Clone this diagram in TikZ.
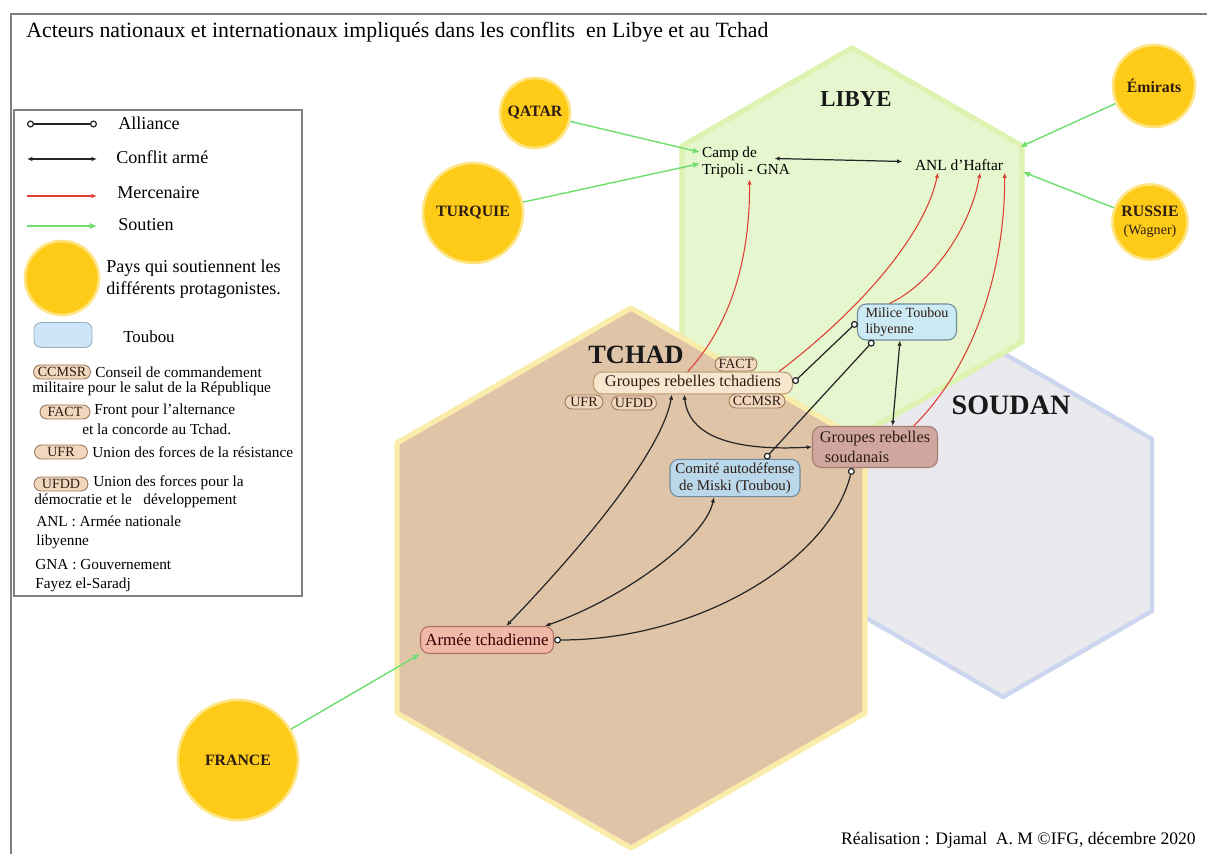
\documentclass[tikz,border=0pt]{standalone}
\usepackage{fontspec}
\setmainfont{Liberation Serif}
\usetikzlibrary{arrows.meta,positioning,calc}

\definecolor{libyevert}{RGB}{230,246,206}
\definecolor{libyebord}{RGB}{222,242,178}
\definecolor{tchadbrun}{RGB}{223,196,168}
\definecolor{tchadbord}{RGB}{250,236,170}
\definecolor{soudangris}{RGB}{234,234,238}
\definecolor{soudanbord}{RGB}{204,214,238}
\definecolor{paysjaune}{RGB}{254,203,24}
\definecolor{paysbord}{RGB}{255,228,132}
\definecolor{soutienvert}{RGB}{110,222,110}
\definecolor{mercrouge}{RGB}{222,62,50}
\definecolor{cadregris}{RGB}{128,128,128}
\definecolor{rebellefond}{RGB}{247,231,207}
\definecolor{rebellebord}{RGB}{186,156,116}
\definecolor{siglefond}{RGB}{241,215,189}
\definecolor{siglebord}{RGB}{160,120,90}
\definecolor{toubouclair}{RGB}{204,234,243}
\definecolor{toubouteint}{RGB}{186,216,233}
\definecolor{touboubord}{RGB}{110,140,156}
\definecolor{legtoubou}{RGB}{206,229,249}
\definecolor{soudanrose}{RGB}{207,167,158}
\definecolor{soudanrosebord}{RGB}{166,126,118}
\definecolor{armeerose}{RGB}{241,183,167}
\definecolor{armeebord}{RGB}{176,110,100}
\definecolor{textebrun}{RGB}{45,28,20}

\tikzset{
  pays/.style={circle, fill=paysjaune, draw=paysbord, line width=1.5pt, inner sep=0pt,
    align=center, text=textebrun, font=\bfseries\fontsize{9}{10}\selectfont},
  acteur/.style={draw, rounded corners=5pt, line width=0.6pt, inner sep=2pt, align=center,
    text=textebrun, font=\fontsize{8.7}{10}\selectfont},
  sigle/.style={draw=siglebord, fill=siglefond, rounded corners=4pt, line width=0.5pt,
    inner sep=1pt, minimum height=0.28cm, text=textebrun, font=\fontsize{8}{9}\selectfont},
  legende/.style={anchor=west, inner sep=0pt, align=left, font=\fontsize{8.7}{10.5}\selectfont},
  region/.style={text=black!90, font=\bfseries\fontsize{13}{15}\selectfont},
  alliance/.style={black!85, line width=0.7pt,
    arrows={Circle[fill=white,length=4pt,width=4pt]-Circle[fill=white,length=4pt,width=4pt]}},
  conflit/.style={black!85, line width=0.7pt,
    arrows={Latex[length=3pt,width=2.5pt]-Latex[length=3pt,width=2.5pt]}},
  mercenaire/.style={mercrouge, line width=0.6pt, arrows={-Latex[length=3pt,width=2.5pt]}},
  soutien/.style={soutienvert, line width=0.8pt, arrows={-Latex[length=4pt,width=3.5pt]}}
}

\begin{document}
\begin{tikzpicture}[x=0.02cm, y=-0.02cm]
\useasboundingbox (0,0) rectangle (1207,854);
\fill[white] (0,0) rectangle (1207,854);

% Cadre et titre
\draw[cadregris, line width=1.2pt] (11,854) |- (1207,14);
\node[anchor=west, inner sep=0pt, font=\fontsize{12.4}{14}\selectfont] (titre) at (26,32)
  {Acteurs nationaux et internationaux impliqués dans les conflits\ \ en Libye et au Tchad};

% Hexagones des pays
\filldraw[soudanbord, fill=soudangris, line width=2.5pt, line join=round]
  (1003,353) -- (1152,439) -- (1152,611) -- (1003,697) -- (854,611) -- (854,439) -- cycle;
\filldraw[libyebord, fill=libyevert, line width=3pt, line join=round]
  (852,48) -- (1022,146) -- (1022,342) -- (852,440) -- (682,342) -- (682,146) -- cycle;
\filldraw[tchadbord, fill=tchadbrun, line width=3pt, line join=round]
  (631,308) -- (865,443) -- (865,713) -- (631,848) -- (397,713) -- (397,443) -- cycle;

\node[region] (libye) at (856,99) {LIBYE};
\node[region, font=\bfseries\fontsize{15}{17}\selectfont] (tchad) at (636,355) {TCHAD};
\node[region, font=\bfseries\fontsize{16}{18}\selectfont] (soudan) at (1011,405) {SOUDAN};

% Acteurs
\node[align=left, inner sep=1pt, font=\fontsize{8.7}{9.6}\selectfont] (camp) at (746,162)
  {Camp de\\Tripoli - GNA};
\node[inner sep=1pt, font=\fontsize{8.8}{10}\selectfont] (anl) at (959,165) {ANL d’Haftar};
\node[acteur, draw=rebellebord, fill=rebellefond, minimum width=3.98cm, minimum height=0.4cm,
  font=\fontsize{9.3}{10}\selectfont] (grtchad) at (693,383) {Groupes rebelles tchadiens};
\node[sigle, minimum width=0.84cm] (fact) at (736,364) {FACT};
\node[sigle, minimum width=0.76cm] (ufr) at (584,402) {UFR};
\node[sigle, minimum width=0.9cm] (ufdd) at (634,403) {UFDD};
\node[sigle, minimum width=1.12cm] (ccmsr) at (757,401) {CCMSR};
\node[acteur, draw=touboubord, fill=toubouclair, align=left, minimum width=1.98cm,
  minimum height=0.72cm, font=\fontsize{8}{9}\selectfont] (milice) at (907,322)
  {Milice Toubou\\libyenne};
\node[acteur, draw=soudanrosebord, fill=soudanrose, align=left, minimum width=2.5cm,
  minimum height=0.82cm, font=\fontsize{9.3}{11.3}\selectfont] (grsoudan) at (875,447)
  {Groupes rebelles\\\hspace{0.3em}soudanais};
\node[acteur, draw=touboubord, fill=toubouteint, minimum width=2.6cm, minimum height=0.72cm,
  font=\fontsize{8.5}{9.5}\selectfont] (comite) at (735,478)
  {Comité autodéfense\\de Miski (Toubou)};
\node[acteur, draw=armeebord, fill=armeerose, minimum width=2.66cm, minimum height=0.54cm,
  text=black!80!red, font=\fontsize{9.6}{10}\selectfont] (armee) at (487,640) {Armée tchadienne};

% Pays qui soutiennent
\node[pays, minimum size=1.4cm] (qatar) at (535,113) {QATAR};
\node[pays, minimum size=2cm] (turquie) at (473,213) {TURQUIE};
\node[pays, minimum size=2.4cm] (france) at (238,760) {FRANCE};
\node[pays, minimum size=1.64cm] (emirats) at (1154,86) {Émirats};
\node[pays, minimum size=1.5cm] (russie) at (1150,222)
  {RUSSIE\\{\mdseries\fontsize{8}{9}\selectfont(Wagner)}};

% Soutien
\coordinate (anl-haut) at (1020,147);
\coordinate (anl-bas) at (1023,172);
\draw[soutien] (qatar) -- (camp.168);
\draw[soutien] (turquie) -- (camp.182);
\draw[soutien] (emirats) -- (anl-haut);
\draw[soutien] (russie) -- (anl-bas);
\draw[soutien] (france) -- (armee.south west);

% Mercenaires
\draw[mercenaire] ([xshift=-3pt]grtchad.north) .. controls (735,320) and (750,250) .. ([xshift=2pt]camp.south);
\draw[mercenaire] ([xshift=-8pt]grtchad.north east) .. controls (860,310) and (925,235) .. ([xshift=-12pt]anl.south);
\draw[mercenaire] ([xshift=-10pt]milice.north) .. controls (930,285) and (970,230) .. ([xshift=12pt]anl.south);
\draw[mercenaire] ([xshift=22pt]grsoudan.north) .. controls (980,360) and (1005,260) .. ([xshift=26pt]anl.south);

% Conflits et alliances
\draw[conflit] ([xshift=-10pt, yshift=2pt]camp.east) -- ([xshift=-6pt, yshift=2pt]anl.west);
\draw[alliance] (grtchad.east) -- (milice.west);
\draw[alliance] ([xshift=17pt]comite.north) -- ([xshift=-19pt]milice.south);
\draw[conflit] ([xshift=-4pt]milice.south) -- ([xshift=10pt]grsoudan.north);
\draw[conflit] ([xshift=-5pt]grtchad.south) .. controls (688,430) and (720,452) .. (grsoudan.west);
\draw[conflit] ([xshift=-12pt]grtchad.south) .. controls (660,460) and (560,570) .. ([xshift=11pt]armee.north);
\draw[conflit] ([xshift=-12pt]comite.south) .. controls (705,540) and (620,600) .. ([xshift=33pt]armee.north);
\draw[alliance] ([xshift=-13pt]grsoudan.south) .. controls (830,560) and (700,640) .. (armee.east);

% Légende
\filldraw[cadregris, fill=white, line width=1pt] (14,110) rectangle (302,596);
\coordinate (la1) at (27,124); \coordinate (la2) at (97,124);
\coordinate (lc1) at (27,159); \coordinate (lc2) at (97,159);
\coordinate (lm1) at (27,196); \coordinate (lm2) at (97,196);
\coordinate (ls1) at (27,226); \coordinate (ls2) at (97,226);
\draw[alliance] (la1) -- (la2);
\draw[conflit] (lc1) -- (lc2);
\draw[mercenaire] (lm1) -- (lm2);
\draw[soutien] (ls1) -- (ls2);
\node[legende, font=\fontsize{10.3}{12}\selectfont] (l-alliance) at (118,123) {Alliance};
\node[legende, font=\fontsize{10.3}{12}\selectfont] (l-conflit) at (116,157) {Conflit armé};
\node[legende, font=\fontsize{10.3}{12}\selectfont] (l-merc) at (117,193) {Mercenaire};
\node[legende, font=\fontsize{10.3}{12}\selectfont] (l-soutien) at (118,225) {Soutien};
\node[pays, minimum size=1.48cm] (l-pays) at (62,278) {};
\node[legende, font=\fontsize{10.3}{12.5}\selectfont] (l-paystexte) at (106,279)
  {Pays qui soutiennent les\\différents protagonistes.};
\node[draw=touboubord!70, fill=legtoubou, rounded corners=4pt, line width=0.5pt,
  minimum width=1.16cm, minimum height=0.5cm] (l-toubou) at (63,335) {};
\node[legende, font=\fontsize{9.6}{11}\selectfont] (l-touboutexte) at (123,337) {Toubou};
\node[sigle, minimum width=1.14cm] (l-ccmsr) at (62,372) {CCMSR};
\node[legende] (l-ccmsr1) at (95,372) {Conseil de commandement};
\node[legende] (l-ccmsr2) at (32,389) {militaire pour le salut de la République};
\node[sigle, minimum width=1cm] (l-fact) at (65,412) {FACT};
\node[legende] (l-fact1) at (94,411) {Front pour l’alternance};
\node[legende] (l-fact2) at (82,429) {et la concorde au Tchad.};
\node[sigle, minimum width=1.06cm] (l-ufr) at (61,452) {UFR};
\node[legende] (l-ufr1) at (92,452) {Union des forces de la résistance};
\node[sigle, minimum width=1.08cm] (l-ufdd) at (61,484) {UFDD};
\node[legende] (l-ufdd1) at (93,483) {Union des forces pour la};
\node[legende] (l-ufdd2) at (34,501) {démocratie et le\ \ \ développement};
\node[legende, font=\fontsize{8.7}{10.8}\selectfont] (l-anl) at (36,532) {ANL : Armée nationale\\libyenne};
\node[legende, font=\fontsize{8.7}{10.8}\selectfont] (l-gna) at (35,576) {GNA : Gouvernement\\Fayez el-Saradj};

% Crédit
\node[anchor=east, inner sep=0pt, font=\fontsize{10}{12}\selectfont] (credit) at (1196,840)
  {Réalisation : Djamal\ \ A. M ©IFG, décembre 2020};
\end{tikzpicture}
\end{document}
